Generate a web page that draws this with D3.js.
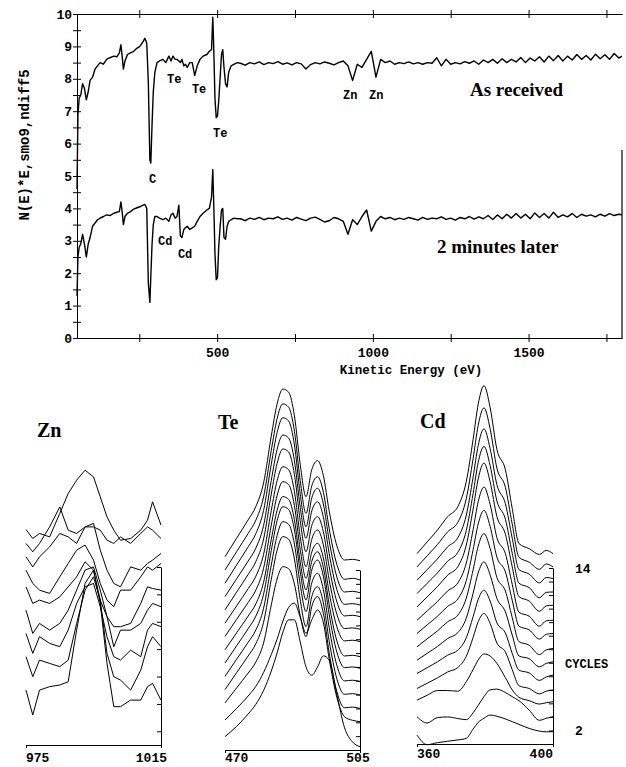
<!DOCTYPE html>
<html>
<head>
<meta charset="utf-8">
<script src="https://cdn.jsdelivr.net/npm/d3@7"></script>
<style>
  body { margin: 0; background: #fff; }
  .axis path, .axis line { stroke: #000; stroke-width: 1; }
  .axis text { font-family: "Liberation Mono", "DejaVu Sans Mono", monospace; font-weight: bold; font-size: 13px; fill: #000; }
  .mono { font-family: "Liberation Mono", "DejaVu Sans Mono", monospace; font-weight: bold; fill: #000; }
  .serif { font-family: "Liberation Serif", "DejaVu Serif", serif; font-weight: bold; fill: #000; }
</style>
</head>
<body>
<div id="chart"></div>
<script>
// ---- survey spectrum (top) ----
var topEnergy = [50,53,57,62,68,74,80,86,92,100,108,116,124,135,145,156,168,178,186,191,
  195,199,204,212,222,232,243,252,262,268,274,279,284,287,291,295,300,307,315,326,
  335,345,352,358,365,371,377,382,387,393,398,404,412,420,428,436,445,455,467,475,
  482,486,489,493,497,501,505,510,514,518,522,527,532,537,545,555,565,
  575,590,605,620,635,650,665,680,695,710,725,740,755,770,785,800,815,830,845,860,
  875,890,905,920,935,950,965,980,995,1010,1025,1040,1055,1070,1085,1100,1115,1130,1145,1160,
  1175,1190,1205,1220,1235,1250,1265,1280,1295,1310,1325,1340,1355,1370,1385,1400,1415,1430,1445,1460,
  1475,1490,1505,1520,1535,1550,1565,1580,1595,1610,1625,1640,1655,1670,1685,1700,1715,1730,1745,1760,
  1775,1790,1800];

var asReceived = [4.6,6.9,7.4,7.5,7.85,7.7,7.35,7.6,7.95,8.05,8.3,8.4,8.5,8.45,8.6,8.65,8.7,8.68,8.8,9.05,
  8.7,8.3,8.55,8.75,8.8,8.85,8.95,9.0,9.15,9.25,9.1,7.9,5.5,5.4,6.6,7.6,8.2,8.5,8.55,8.6,
  8.5,8.7,8.55,8.7,8.6,8.6,8.55,8.5,8.6,8.4,8.45,8.35,8.5,8.5,8.1,8.4,8.6,8.7,8.75,8.85,
  8.9,9.9,9.0,7.4,6.8,6.85,7.3,8.1,8.75,8.9,8.35,7.85,7.75,8.2,8.4,8.45,8.5,
  8.48,8.42,8.5,8.46,8.52,8.44,8.5,8.47,8.53,8.45,8.49,8.43,8.5,8.46,8.3,8.44,8.5,8.46,8.52,8.48,
  8.43,8.5,8.55,8.4,7.95,8.45,8.35,8.6,8.85,8.05,8.6,8.5,8.55,8.45,8.5,8.47,8.52,8.46,8.5,8.45,
  8.5,8.48,8.65,8.4,8.6,8.45,8.5,8.46,8.53,8.48,8.55,8.45,8.58,8.5,8.6,8.48,8.62,8.5,8.6,8.52,
  8.66,8.5,8.64,8.55,8.68,8.52,8.7,8.56,8.72,8.55,8.7,8.58,8.75,8.6,8.72,8.58,8.76,8.62,8.74,8.6,
  8.78,8.64,8.7];

var twoMinLater = [1.3,2.5,2.8,2.9,3.2,2.9,2.5,2.9,3.1,3.45,3.55,3.65,3.7,3.75,3.8,3.78,3.85,3.88,3.9,4.2,
  3.9,3.5,3.75,3.85,3.9,3.98,4.02,4.05,4.1,4.12,4.0,1.7,1.1,1.9,2.9,3.5,3.75,3.75,3.7,3.65,
  3.7,3.6,3.8,3.85,3.7,3.75,4.1,3.15,3.1,3.35,3.4,3.45,3.35,3.4,3.45,3.6,3.75,3.85,3.95,4.0,
  4.35,5.2,4.2,2.6,1.8,1.85,2.8,3.5,3.95,4.0,3.1,3.05,3.45,3.6,3.65,3.7,3.68,
  3.68,3.62,3.7,3.66,3.72,3.65,3.7,3.68,3.74,3.66,3.7,3.64,3.72,3.67,3.62,3.7,3.73,3.66,3.58,3.62,
  3.72,3.68,3.6,3.2,3.65,3.5,3.75,3.95,3.3,3.6,3.75,3.68,3.72,3.65,3.7,3.66,3.72,3.68,3.64,3.72,
  3.66,3.7,3.68,3.74,3.66,3.7,3.64,3.72,3.68,3.75,3.67,3.74,3.68,3.78,3.66,3.8,3.68,3.82,3.7,3.84,
  3.7,3.82,3.68,3.86,3.72,3.84,3.7,3.88,3.72,3.8,3.74,3.84,3.72,3.82,3.76,3.8,3.74,3.82,3.76,3.84,
  3.78,3.82,3.8];

var topXTicks = [250, 500, 750, 1000, 1250, 1500, 1750];
var topYTicks = [0,0.5,1,1.5,2,2.5,3,3.5,4,4.5,5,5.5,6,6.5,7,7.5,8,8.5,9,9.5,10];

// peak annotations: [label, energy, level]
var peakLabels = [["Te", 339, 7.87], ["Te", 419, 7.56], ["Te", 487, 6.2], ["C", 281, 4.78],
  ["Zn", 904, 7.38], ["Zn", 988, 7.38], ["Cd", 310, 2.87], ["Cd", 374, 2.47]];

// ---- multiplex (cycles) panels ----
var cycleTicks = [2,3,4,5,6,7,8,9,10,11,12,13,14];
var znTicks = [2,4,6,8,10,12,14];

var znEnergy = [975,977,979,982,985,987.5,990,992.5,995,997,999,1001,1003,1006,1009,1011,1012.5,1015];
var znCurves = [
  [16.74,16.08,16.45,16.2,17.91,19.37,20.34,21.07,20.58,19.12,17.66,16.69,15.96,16.08,16.69,17.42,18.76,17.06],
  [15.72,15.11,15.72,16.93,18.39,16.69,16.45,16.93,16.93,16.69,15.96,15.72,16.2,15.72,16.45,16.93,16.69,16.08],
  [14.74,14.01,14.74,15.47,16.45,16.2,15.72,16.93,17.18,15.23,13.77,12.8,12.55,14.01,13.77,14.26,14.5,14.99],
  [13.77,12.8,12.31,12.07,13.28,14.26,15.23,15.6,14.5,12.8,11.58,11.1,12.31,12.31,13.28,14.01,13.77,14.26],
  [12.55,11.34,11.58,11.34,11.82,12.55,13.28,14.38,13.77,11.58,10.37,9.64,9.64,9.88,11.34,12.55,12.43,12.31],
  [10.85,9.15,9.88,9.39,9.88,10.85,12.31,13.77,14.01,12.31,10.37,8.18,9.39,9.39,9.88,10.85,11.34,11.1],
  [9.15,7.69,8.91,8.42,8.18,9.39,11.34,12.55,12.8,11.1,8.91,7.45,7.2,7.93,7.45,9.39,9.88,9.64],
  [7.45,5.99,7.2,6.96,6.72,7.2,9.88,12.31,13.28,11.58,7.69,5.99,5.74,5.01,6.47,8.18,8.91,8.18],
  [5.01,3.19,5.01,5.26,5.38,5.62,9.39,12.8,13.77,11.34,6.96,3.8,3.8,4.28,4.28,5.26,5.5,4.28]
];

var teEnergy = [470,473,476,478,480,482,483.5,485,486.5,488,489.5,491,492.5,494,495.5,497,499,501,503,505];
var teCurves = [
  [14.96,16.29,17.62,18.59,20.29,23.68,25.98,27.07,26.84,25.13,21.63,19.3,21.25,21.9,20.82,18.28,15.75,14.72,14.77,14.67],
  [14.0,15.32,16.64,17.6,19.28,22.64,24.92,26.0,25.76,24.02,20.46,18.09,20.08,20.74,19.62,17.01,14.4,13.33,13.4,13.28],
  [13.04,14.36,15.67,16.63,18.3,21.65,23.92,25.0,24.76,23.03,19.49,17.13,19.21,19.9,18.77,16.13,13.49,12.41,12.46,12.36],
  [12.08,13.36,14.65,15.58,17.21,20.48,22.7,23.75,23.53,21.89,18.53,16.29,18.27,18.93,17.81,15.2,12.59,11.52,11.57,11.47],
  [11.12,12.4,13.68,14.61,16.23,19.49,21.69,22.74,22.52,20.89,17.55,15.32,17.22,17.85,16.77,14.24,11.71,10.68,10.73,10.63],
  [10.16,11.4,12.65,13.55,15.13,18.3,20.44,21.46,21.24,19.66,16.41,14.24,16.23,16.89,15.81,13.31,10.8,9.77,9.82,9.72],
  [9.2,10.43,11.66,12.55,14.12,17.25,19.37,20.38,20.17,18.64,15.49,13.4,15.3,15.93,14.87,12.38,9.9,8.88,8.93,8.83],
  [8.24,9.46,10.67,11.56,13.11,16.2,18.3,19.3,19.1,17.62,14.58,12.56,14.63,15.32,14.18,11.53,8.88,7.79,7.84,7.74],
  [7.28,8.52,9.76,10.67,12.25,15.41,17.55,18.57,18.37,16.89,13.86,11.84,14.0,14.72,13.55,10.81,8.07,6.95,7.0,6.9],
  [6.32,7.55,8.78,9.67,11.23,14.36,16.48,17.49,17.3,15.87,12.95,11.0,13.07,13.76,12.59,9.85,7.11,5.99,6.04,5.94],
  [5.36,6.58,7.79,8.68,10.22,13.32,15.42,16.41,16.22,14.79,11.86,9.91,12.08,12.8,11.63,8.89,6.14,5.02,5.07,4.97],
  [4.4,5.48,6.56,7.35,8.73,11.48,13.35,14.24,14.09,12.98,10.71,9.19,11.36,12.08,10.87,8.04,5.21,4.05,4.1,4.0],
  [3.17,4.0,4.9,5.6,6.6,7.9,9.0,10.3,11.3,11.6,10.6,9.43,10.4,11.1,10.2,7.6,4.8,3.4,3.15,3.05],
  [1.97,2.7,3.6,4.3,5.3,6.7,8.0,9.5,10.4,10.4,8.8,7.0,6.4,7.0,7.8,7.5,5.0,2.6,1.6,1.24]
];

var cdEnergy = [360,363,366,369,372,374.5,376.5,378,379.7,381.5,383.5,386,388,390,393,396,398,400];
var cdCurves = [
  [15.06,15.93,16.8,17.79,18.53,20.4,23.5,26.1,27.47,25.86,22.76,21.26,18.41,15.8,15.43,15.0,15.3,15.06],
  [14.08,14.9,15.73,16.67,17.37,19.13,22.07,24.54,25.83,24.3,21.37,19.96,17.25,14.79,14.43,13.9,14.3,14.08],
  [13.1,13.88,14.67,15.56,16.23,17.91,20.7,23.05,24.28,22.83,20.15,18.75,16.21,13.88,13.55,12.9,13.3,13.22],
  [12.11,12.87,13.63,14.5,15.15,16.78,19.5,21.8,22.98,21.57,18.95,17.6,15.1,12.87,12.55,11.8,12.2,12.23],
  [11.13,11.87,12.62,13.47,14.1,15.7,18.35,20.58,21.75,20.37,17.8,16.5,14.1,11.88,11.56,10.8,11.2,11.25],
  [10.14,10.83,11.52,12.3,12.9,14.37,16.83,18.9,19.98,18.7,16.24,15.06,12.8,10.73,10.44,9.7,10.1,10.14],
  [9.16,9.8,10.43,11.16,11.71,13.07,15.35,17.26,18.26,17.08,14.8,13.71,11.62,9.7,9.43,8.75,9.1,9.16],
  [8.18,8.77,9.35,10.02,10.52,11.78,13.86,15.62,16.54,15.45,13.3,12.3,10.35,8.56,8.3,7.6,7.95,8.05],
  [7.19,7.7,8.2,8.79,9.22,10.3,12.13,13.65,14.45,13.5,11.75,10.76,9.05,7.5,7.3,6.7,6.95,7.07],
  [6.21,6.64,7.07,7.56,7.93,8.85,10.4,11.68,12.36,11.56,9.95,9.2,7.7,6.45,6.25,5.7,5.95,6.09],
  [5.1,5.49,5.88,6.32,6.65,7.48,8.87,10.03,10.64,9.92,8.45,7.8,6.5,5.3,5.1,4.7,4.9,4.98],
  [4.24,4.6,4.95,4.95,4.9,5.6,6.5,7.2,7.65,7.5,6.95,5.9,5.0,4.45,4.2,3.95,4.05,4.12],
  [3.01,2.55,2.95,3.0,2.88,2.8,3.3,3.85,4.5,5.0,5.05,4.8,4.5,4.2,3.5,2.75,2.9,3.01],
  [1.66,0.95,1.1,1.2,1.3,1.42,2.1,2.6,2.9,3.14,3.05,2.85,2.65,2.45,2.15,1.95,1.9,1.91]
];

var W = 626, H = 767;
var svg = d3.select("#chart").append("svg")
    .attr("width", W)
    .attr("height", H)
    .attr("viewBox", "0 0 " + W + " " + H);

// ===== top chart =====
var x = d3.scaleLinear().domain([50, 1800]).range([77, 622]);
var y = d3.scaleLinear().domain([0, 10]).range([338, 14]);

var topG = svg.append("g");

// left axis, ticks crossing the line
topG.append("g")
    .attr("class", "axis")
    .attr("transform", "translate(" + x(50) + ",0)")
    .call(d3.axisLeft(y).tickValues(topYTicks).tickSize(4).tickSizeOuter(0).tickPadding(1)
        .tickFormat(function(d) { return Number.isInteger(d) ? d : ""; }));
topG.append("g")
    .attr("class", "axis")
    .attr("transform", "translate(" + x(50) + ",0)")
    .call(d3.axisRight(y).tickValues(topYTicks).tickSize(4).tickSizeOuter(0).tickFormat(""));

// bottom axis
topG.append("g")
    .attr("class", "axis")
    .attr("transform", "translate(0," + y(0) + ")")
    .call(d3.axisBottom(x).tickValues(topXTicks).tickSize(4).tickSizeOuter(0).tickPadding(6)
        .tickFormat(function(d) { return d % 500 === 0 ? d : ""; }));
topG.append("g")
    .attr("class", "axis")
    .attr("transform", "translate(0," + y(0) + ")")
    .call(d3.axisTop(x).tickValues(topXTicks).tickSize(4).tickSizeOuter(0).tickFormat(""));

// top frame with the same ticks
topG.append("g")
    .attr("class", "axis")
    .attr("transform", "translate(0," + y(10) + ")")
    .call(d3.axisTop(x).tickValues(topXTicks).tickSize(4).tickSizeOuter(0).tickFormat(""));
topG.append("g")
    .attr("class", "axis")
    .attr("transform", "translate(0," + y(10) + ")")
    .call(d3.axisBottom(x).tickValues(topXTicks).tickSize(4).tickSizeOuter(0).tickFormat(""));

// right frame (only the lower part shows in the print)
topG.append("line")
    .attr("x1", x(1800)).attr("x2", x(1800))
    .attr("y1", y(5.8)).attr("y2", y(0))
    .attr("stroke", "#000").attr("stroke-width", 1.2);

topG.append("text")
    .attr("class", "mono")
    .attr("font-size", 14)
    .attr("text-anchor", "middle")
    .attr("transform", "translate(29,145) rotate(-90)")
    .text("N(E)*E,smo9,ndiff5");

topG.append("text")
    .attr("class", "mono")
    .attr("font-size", 12.5)
    .attr("text-anchor", "middle")
    .attr("x", 411).attr("y", 374)
    .text("Kinetic Energy (eV)");

var topLine = d3.line()
    .x(function(d) { return x(d[0]); })
    .y(function(d) { return y(d[1]); });

[asReceived, twoMinLater].forEach(function(s) {
    topG.append("path")
        .datum(d3.zip(topEnergy, s))
        .attr("fill", "none")
        .attr("stroke", "#000")
        .attr("stroke-width", 1.4)
        .attr("stroke-linejoin", "round")
        .attr("d", topLine);
});

topG.selectAll("text.peak")
    .data(peakLabels)
    .enter().append("text")
    .attr("class", "mono peak")
    .attr("font-size", 12)
    .attr("x", function(d) { return x(d[1]); })
    .attr("y", function(d) { return y(d[2]); })
    .text(function(d) { return d[0]; });

topG.append("text").attr("class", "serif").attr("font-size", 19)
    .attr("x", 470).attr("y", 96).text("As received");
topG.append("text").attr("class", "serif").attr("font-size", 19)
    .attr("x", 437).attr("y", 253).text("2 minutes later");

// ===== cycle panels =====
function drawPanel(o) {
    var px = d3.scaleLinear().domain([o.energy[0], o.energy[o.energy.length - 1]]).range(o.xRange);
    var py = d3.scaleLinear().domain([1, 14]).range(o.yRange);
    var g = svg.append("g");

    // energy baseline with end ticks
    g.append("g")
        .attr("class", "axis")
        .attr("transform", "translate(0," + py(1) + ")")
        .call(d3.axisBottom(px).tickValues(px.domain()).tickSize(3).tickSizeOuter(0).tickFormat(""));

    g.append("text").attr("class", "mono").attr("font-size", 13)
        .attr("x", o.xRange[0]).attr("y", o.labelY)
        .text(px.domain()[0]);
    g.append("text").attr("class", "mono").attr("font-size", 13)
        .attr("text-anchor", o.rightAnchor)
        .attr("x", o.xRange[1] + o.rightShift).attr("y", o.labelY)
        .text(px.domain()[1]);

    // cycle axis on the right
    g.append("g")
        .attr("class", "axis")
        .attr("transform", "translate(" + o.xRange[1] + ",0)")
        .call(d3.axisLeft(py).tickValues(o.ticks).tickSize(4).tickSizeOuter(0).tickFormat(""));

    var line = d3.line()
        .curve(o.curve)
        .x(function(d, i) { return px(o.energy[i]); })
        .y(function(d) { return py(d); });

    g.selectAll("path.spec")
        .data(o.curves)
        .enter().append("path")
        .attr("class", "spec")
        .attr("fill", "none")
        .attr("stroke", "#000")
        .attr("stroke-width", 1)
        .attr("d", line);

    g.append("text").attr("class", "serif").attr("font-size", 20)
        .attr("x", o.title[1]).attr("y", o.title[2])
        .text(o.title[0]);

    return py;
}

drawPanel({ energy: znEnergy, curves: znCurves, xRange: [26, 161], yRange: [745, 567], labelY: 762,
    ticks: znTicks, curve: d3.curveLinear, title: ["Zn", 37, 437], rightAnchor: "end", rightShift: 6 });
drawPanel({ energy: teEnergy, curves: teCurves, xRange: [225, 360], yRange: [750, 570], labelY: 762,
    ticks: cycleTicks, curve: d3.curveMonotoneX, title: ["Te", 218, 429], rightAnchor: "middle", rightShift: -2 });
var cdY = drawPanel({ energy: cdEnergy, curves: cdCurves, xRange: [417, 553], yRange: [744, 568], labelY: 758,
    ticks: cycleTicks, curve: d3.curveMonotoneX, title: ["Cd", 420, 428], rightAnchor: "end", rightShift: 0 });

svg.append("text").attr("class", "mono").attr("font-size", 13)
    .attr("x", 575).attr("y", cdY(14) + 5).text("14");
svg.append("text").attr("class", "mono").attr("font-size", 13)
    .attr("x", 575).attr("y", cdY(2) + 5).text("2");
svg.append("text").attr("class", "mono").attr("font-size", 12)
    .attr("x", 565).attr("y", 668).text("CYCLES");
</script>
</body>
</html>
